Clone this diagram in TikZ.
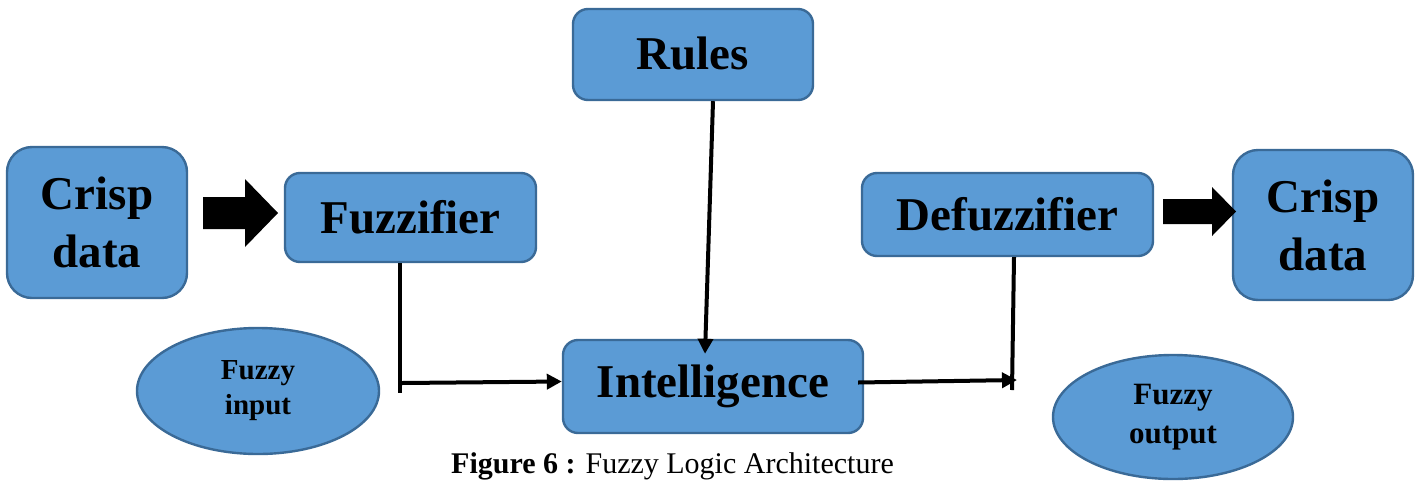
\documentclass[tikz,border=0pt]{standalone}
\usepackage{fontspec}
\setmainfont{Liberation Serif}
\usetikzlibrary{arrows.meta,calc,shapes.geometric}
\definecolor{boxfill}{HTML}{5B9BD5}
\definecolor{boxline}{HTML}{3A6A97}
\tikzset{
  block/.style={draw=boxline, line width=2.4pt, fill=boxfill, rounded corners=15pt,
    inner sep=0pt, align=center, font=\fontsize{47}{58}\selectfont\bfseries},
  bigblock/.style={block, rounded corners=25pt},
  blob/.style={ellipse, draw=boxline, line width=2.4pt, fill=boxfill, inner sep=0pt,
    align=center},
  wire/.style={line width=4pt},
  flow/.style={wire, -{Triangle[length=15pt,width=15pt]}},
  fat/.style={fill=black}
}
\begin{document}
\begin{tikzpicture}[x=1pt,y=-1pt]
\useasboundingbox (0,0) rectangle (1421,480);

% processing blocks
\node[bigblock, minimum width=180pt, minimum height=151pt] (crispL) at (97,222.5) {Crisp\\data};
\node[block, minimum width=251pt, minimum height=89pt] (fuzz) at (410.5,217.5) {Fuzzifier};
\node[block, minimum width=240pt, minimum height=91pt] (rules) at (693,54.5) {\raisebox{3pt}{Rules}};
\node[block, minimum width=291pt, minimum height=83pt] (defuzz) at (1007.5,214.5) {Defuzzifier};
\node[bigblock, minimum width=180pt, minimum height=150pt] (crispR) at (1323,225) {Crisp\\data};
\node[block, minimum width=300pt, minimum height=93pt] (intel) at (713,386.5) {Intelligence};

% fuzzy sets
\node[blob, minimum width=242pt, minimum height=126pt,
      font=\fontsize{29}{35}\selectfont\bfseries] (fin) at (258,391) {Fuzzy\\input};
\node[blob, minimum width=240pt, minimum height=124pt,
      font=\fontsize{31}{39}\selectfont\bfseries] (fout) at (1173,417) {Fuzzy\\output};

% block arrows for crisp data in and out
\fill[fat] (203,197) -- (245,197) -- (245,179) -- (278,213) -- (245,247) -- (245,229) -- (203,229) -- cycle;
\fill[fat] (1163,199) -- (1212,199) -- (1212,187) -- (1236,211.5) -- (1212,236) -- (1212,224) -- (1163,224) -- cycle;

% junction points of the signal path
\coordinate (j1) at (400,393);
\coordinate (j1a) at (402,383);
\coordinate (j2) at (1017,380);
\coordinate (j2b) at (1012,390);

% fuzzifier to intelligence
\draw[wire] (fuzz.south -| j1) -- (j1);
\draw[flow] (j1a) -- ($(intel.west)+(0,-5)$);
% rules into intelligence
\draw[flow] ($(rules.south)+(20,0)$) -- ($(intel.north)+(-8,15)$);
% intelligence to defuzzifier
\draw[flow] ($(intel.east)+(-6,-4)$) -- (j2);
\draw[wire] ($(defuzz.south)+(6.5,0)$) -- (j2b);

% caption
\node[anchor=base, font=\fontsize{30}{36}\selectfont, inner sep=0pt] (cap) at (672.5,473)
  {\textbf{Figure 6 :} Fuzzy Logic Architecture};
\end{tikzpicture}
\end{document}
